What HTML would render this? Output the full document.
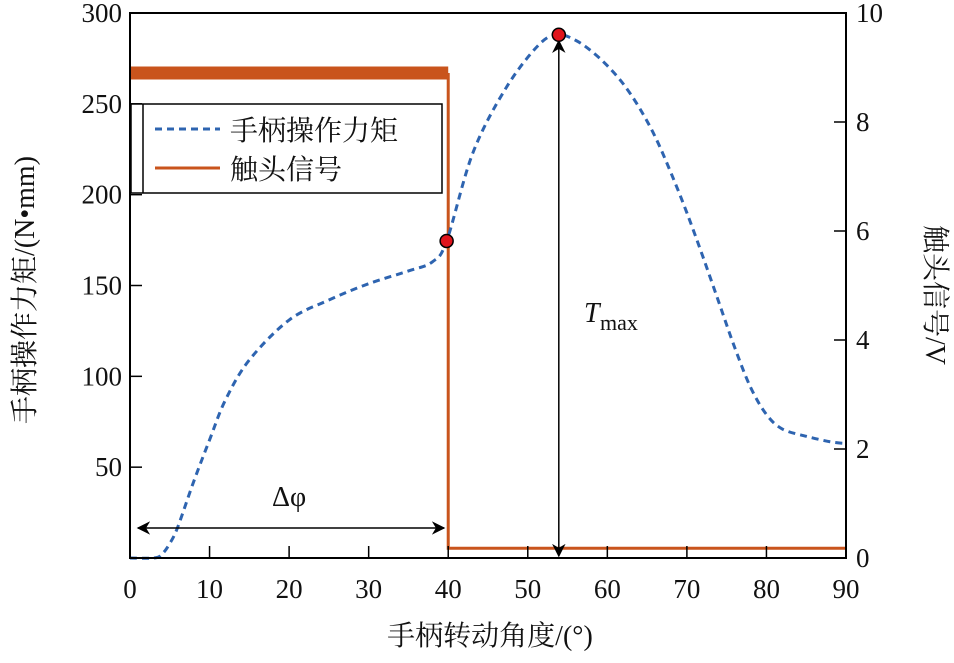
<!DOCTYPE html>
<html><head><meta charset="utf-8"><style>
body{margin:0;background:#fff;width:954px;height:658px;overflow:hidden}
svg text{font-family:"Liberation Serif","Noto Serif CJK SC","Noto Sans CJK SC",serif;fill:#111}
</style></head><body>
<svg id="chart" width="954" height="658" viewBox="0 0 954 658" xmlns="http://www.w3.org/2000/svg">
<defs>
<marker id="ah" viewBox="0 0 10 10" refX="9" refY="5" markerWidth="9" markerHeight="9" orient="auto-start-reverse"><path d="M0,0 L10,5 L0,10 L3,5 z" fill="#000"/></marker>
</defs>
<g id="plot"></g>
</svg>
<script>
const angles=[0,3,4,5,6,8,10,12,15,20,25,30,35,38,39.8,43.1,47.3,51.5,53.9,56,58,60,62,64,66,68,70,72,74,76,78,80,82,85,88,90];
const torque=[0,0,2,8,17,42,65,87,109,131,142,151,158,163,174.5,223,259,283,288,285,279,271,261,248,232,212,190,166,141,116,94,79,71,67,64,63];
const sigX=[0,40,40,90];
const sigV=[8.9,8.9,0.18,0.18];
const xTicks=[0,10,20,30,40,50,60,70,80,90];
const yTicks=[50,100,150,200,250,300];
const y2Ticks=[0,2,4,6,8,10];
const markerIdx=[14,18];

const X0=130,X1=846,Y0=558,Y1=13;
const sx=v=>X0+(v/90)*(X1-X0);
const sy=v=>Y0-(v/300)*(Y0-Y1);
const sy2=v=>Y0-(v/10)*(Y0-Y1);
const NS="http://www.w3.org/2000/svg";
const g=document.getElementById('plot');
function mk(t,a,txt){const e=document.createElementNS(NS,t);for(const k in a)e.setAttribute(k,a[k]);if(txt!==undefined)e.textContent=txt;g.appendChild(e);return e;}

let sp=sigX.map((x,i)=>sx(x)+','+sy2(sigV[i]));
let s1=mk('polyline',{points:sp.slice(0,2).join(' '),fill:'none',stroke:'#c9541c','stroke-width':13});


let s2=mk('polyline',{points:sp.slice(1).join(' '),fill:'none',stroke:'#c9541c','stroke-width':3});



const pts=angles.map((a,i)=>[sx(a),sy(torque[i])]);
let d='M'+pts[0][0]+','+pts[0][1];
for(let i=0;i<pts.length-1;i++){const p0=pts[Math.max(0,i-1)],p1=pts[i],p2=pts[i+1],p3=pts[Math.min(pts.length-1,i+2)];
d+=' C'+(p1[0]+(p2[0]-p0[0])/6)+','+(p1[1]+(p2[1]-p0[1])/6)+' '+(p2[0]-(p3[0]-p1[0])/6)+','+(p2[1]-(p3[1]-p1[1])/6)+' '+p2[0]+','+p2[1];}
let c=mk('path',{d:d,fill:'none',stroke:'#2e64b0','stroke-width':3,'stroke-dasharray':'7,5'});



let a1=mk('line',{x1:138,y1:528,x2:444,y2:528,stroke:'#000','stroke-width':1.5,'marker-start':'url(#ah)','marker-end':'url(#ah)'});


let t1=mk('text',{x:272,y:506,'font-size':28},'Δφ');


let a2=mk('line',{x1:sx(angles[18]),y1:sy(torque[18])+6,x2:sx(angles[18]),y2:556,stroke:'#000','stroke-width':1.5,'marker-start':'url(#ah)','marker-end':'url(#ah)'});


let t2=mk('text',{x:584,y:322,'font-size':28,'font-style':'italic'},'T');


let t3=mk('text',{x:600,y:330,'font-size':22},'max');



markerIdx.forEach(i=>{let m=mk('circle',{cx:sx(angles[i]),cy:sy(torque[i]),r:6.5,fill:'#e0141c',stroke:'#000','stroke-width':1.5});

});

let fr=mk('rect',{x:X0,y:Y1,width:X1-X0,height:Y0-Y1,fill:'none',stroke:'#000','stroke-width':2});



xTicks.forEach(v=>{let l=mk('line',{x1:sx(v),y1:Y0,x2:sx(v),y2:Y0-12,stroke:'#000','stroke-width':1.5});


let t=mk('text',{x:sx(v),y:598,'font-size':27,'text-anchor':'middle'},String(v));

});
yTicks.forEach(v=>{let l=mk('line',{x1:X0,y1:sy(v),x2:X0+12,y2:sy(v),stroke:'#000','stroke-width':1.5});


let t=mk('text',{x:122,y:sy(v)+9,'font-size':27,'text-anchor':'end'},String(v));

});
y2Ticks.forEach(v=>{let l=mk('line',{x1:X1,y1:sy2(v),x2:X1-12,y2:sy2(v),stroke:'#000','stroke-width':1.5});


let t=mk('text',{x:856,y:sy2(v)+9,'font-size':27},String(v));

});

let lb=mk('rect',{x:131,y:104,width:311,height:89,fill:'#fff',stroke:'#000','stroke-width':1.5});


let lb2=mk('line',{x1:143,y1:104,x2:143,y2:193,stroke:'#000','stroke-width':1.5});


let ll1=mk('line',{x1:155,y1:129,x2:220,y2:129,stroke:'#2e64b0','stroke-width':3,'stroke-dasharray':'7,5'});


let lt1=mk('text',{x:230,y:140,'font-size':28},'手柄操作力矩');


let ll2=mk('line',{x1:155,y1:168,x2:220,y2:168,stroke:'#c9541c','stroke-width':3});


let lt2=mk('text',{x:230,y:179,'font-size':28},'触头信号');



let xt=mk('text',{x:490,y:645,'font-size':28,'text-anchor':'middle'},'手柄转动角度/(°)');


let yt=mk('text',{x:0,y:0,'font-size':28,'text-anchor':'middle',transform:'translate(34,290) rotate(-90)'},'手柄操作力矩/(N•mm)');


let y2t=mk('text',{x:0,y:0,'font-size':28,'text-anchor':'middle',transform:'translate(926,295) rotate(90)'},'触头信号/V');


</script>
</body></html>
